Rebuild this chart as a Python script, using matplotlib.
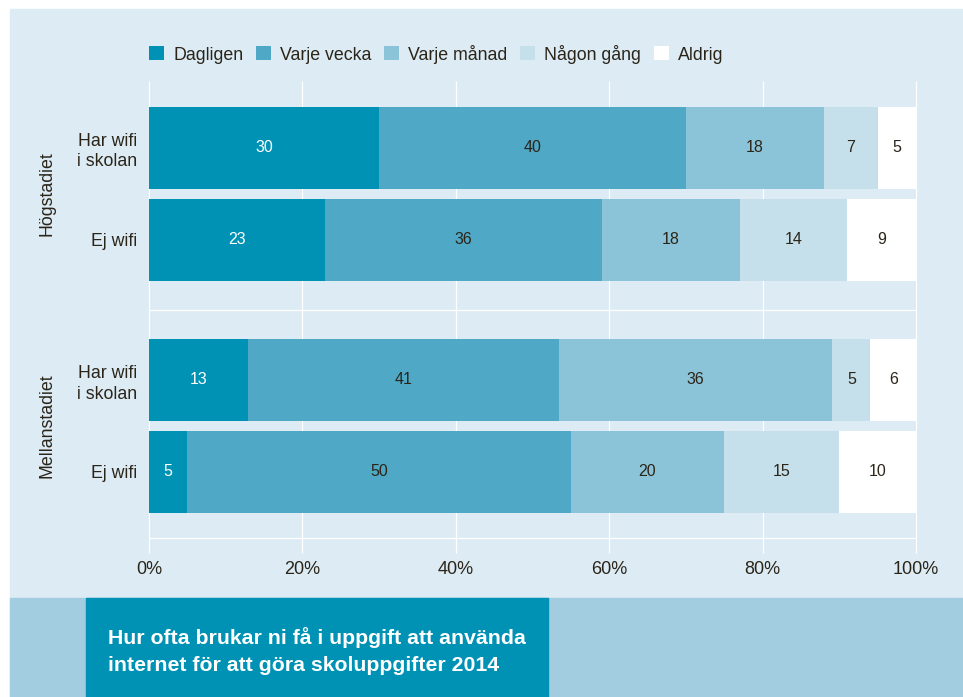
import numpy as np
import matplotlib.pyplot as plt
from matplotlib.patches import Rectangle
from matplotlib.transforms import blended_transform_factory

plt.rcParams['font.family'] = ['Liberation Sans', 'DejaVu Sans']

# data
categories = ['Dagligen', 'Varje vecka', 'Varje månad', 'Någon gång', 'Aldrig']
rows = ['Har wifi\ni skolan', 'Ej wifi', 'Har wifi\ni skolan', 'Ej wifi']
groups = ['Högstadiet', 'Mellanstadiet']
dagligen = [30, 23, 13, 5]
varje_vecka = [40, 36, 41, 50]
varje_manad = [18, 18, 36, 20]
nagon_gang = [7, 14, 5, 15]
aldrig = [5, 9, 6, 10]
xticks = [0, 20, 40, 60, 80, 100]
xticklabels = ['0%', '20%', '40%', '60%', '80%', '100%']
title = 'Hur ofta brukar ni få i uppgift att använda\ninternet för att göra skoluppgifter 2014'

colors = ['#0092b4', '#4ea8c6', '#8bc3d8', '#c5e0ea', '#ffffff']
bg = '#dcebf4'
band = '#a2cde0'
txt = '#2b2519'

W, H = 963, 697
fig = plt.figure(figsize=(W / 100, H / 100), dpi=100, facecolor='white')


def px(x0, y0, x1, y1):
    # pixel box (top-left origin) -> figure fraction rect
    return [x0 / W, 1 - y1 / H, (x1 - x0) / W, (y1 - y0) / H]


def rect(box, color):
    l, b, w, h = px(*box)
    fig.patches.append(Rectangle((l, b), w, h, transform=fig.transFigure,
                                 color=color, zorder=-10))


rect((10, 9, W, H), bg)
rect((10, 598, W, H), band)
rect((86, 598, 548, H), colors[0])

ax = fig.add_axes(px(149, 81, 916, 553), zorder=1)
ax.patch.set_visible(False)
for s in ax.spines.values():
    s.set_visible(False)

ypos = [147.5, 240, 380, 472]
bar_h = 82
ax.set_xlim(0, 100)
ax.set_ylim(553, 81)

values = np.array([dagligen, varje_vecka, varje_manad, nagon_gang, aldrig]).T
shares = values / values.sum(axis=1, keepdims=True) * 100

ax.vlines(xticks, 553, 81, color='white', lw=0.9, zorder=1, clip_on=False)
ax.hlines([310, 538], 0, 100, color='white', lw=0.9, zorder=1, clip_on=False)

lefts = np.zeros(len(rows))
for j, cat in enumerate(categories):
    ax.barh(ypos, shares[:, j], left=lefts, height=bar_h, color=colors[j],
            label=cat, zorder=2)
    for i in range(len(rows)):
        ax.text(lefts[i] + shares[i, j] / 2, ypos[i], str(values[i, j]),
                ha='center', va='center', fontsize=11.5,
                color='white' if j == 0 else txt, zorder=3)
    lefts += shares[:, j]

ax.set_xticks(xticks, xticklabels)
ax.set_yticks(ypos, rows)
ax.tick_params(axis='x', length=0, pad=6, labelsize=13, labelcolor=txt)
ax.tick_params(axis='y', length=0, pad=8.6, labelsize=12.8, labelcolor=txt)
for lab in ax.get_yticklabels():
    lab.set_linespacing(1.3)
    lab.set_multialignment('right')

tr = blended_transform_factory(ax.transAxes, ax.transData)
ax.text((47 - 149) / 767, (ypos[0] + ypos[1]) / 2, groups[0], rotation=90,
        ha='center', va='center', fontsize=12.8, color=txt, transform=tr)
ax.text((47 - 149) / 767, (ypos[2] + ypos[3]) / 2, groups[1], rotation=90,
        ha='center', va='center', fontsize=12.8, color=txt, transform=tr)

handles, labels = ax.get_legend_handles_labels()
fig.legend(handles, labels, loc='center left', bbox_to_anchor=(149 / W, 1 - 54 / H),
           ncol=5, frameon=False, handlelength=0.85, handleheight=0.85,
           handletextpad=0.5, columnspacing=0.72, borderpad=0, borderaxespad=0,
           fontsize=12.8, labelcolor=txt)

fig.text(108 / W, 1 - 651 / H, title, color='white', fontweight='bold',
         fontsize=15.3, ha='left', va='center', linespacing=1.5)

fig.savefig('out.png', dpi=100, facecolor='white')
